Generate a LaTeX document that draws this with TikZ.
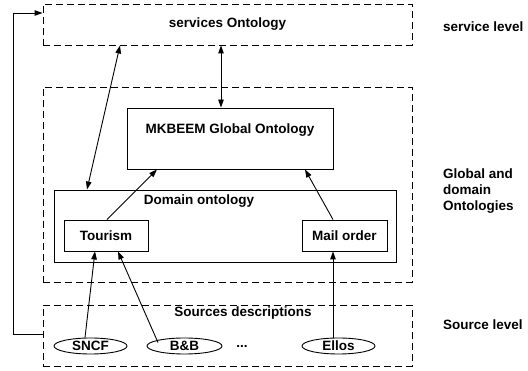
\documentclass[tikz,border=0pt]{standalone}
\usepackage{fontspec}
\setmainfont{Liberation Sans}
\usetikzlibrary{arrows.meta,shapes.geometric,calc}
\begin{document}
\begin{tikzpicture}[x=1pt,y=-1pt,
  font=\fontsize{13.5}{16}\selectfont\bfseries,
  every node/.style={inner sep=0pt},
  lw/.style={line width=0.9pt},
  dbox/.style={draw,lw,dash pattern=on 7pt off 4pt,rectangle},
  sbox/.style={draw,lw,rectangle},
  src/.style={draw,lw,ellipse,minimum height=16pt,text height=9.7pt,text depth=0pt},
  arr/.style={lw,-{Triangle[length=8pt,width=5.5pt]}},
  darr/.style={lw,{Triangle[length=8pt,width=5.5pt]}-{Triangle[length=8pt,width=5.5pt]}},
  lbl/.style={anchor=west,align=left}]
\useasboundingbox (0,0) rectangle (528,371);

% service level
\node[dbox,minimum width=369pt,minimum height=41pt] (svc) at (227.5,24.5) {services Ontology};

% global and domain level
\node[dbox,minimum width=369pt,minimum height=195pt] (glob) at (227.5,184.5) {};
\node[sbox,minimum width=206pt,minimum height=61pt] (mk) at (230,138.5) {};
\node (mktxt) at (230,130) {MKBEEM Global Ontology};
\node[sbox,minimum width=342pt,minimum height=72pt] (dom) at (225,226) {};
\node (domtxt) at (199,201) {Domain ontology};
\node[sbox,minimum width=84pt,minimum height=31pt] (tour) at (106,235.5) {Tourism};
\node[sbox,minimum width=85pt,minimum height=31pt] (mail) at (344.5,235.5) {Mail order};

% source level
\node[dbox,minimum width=369pt,minimum height=61pt] (srcs) at (227.5,335.5) {};
\node (srctxt) at (243,313) {Sources descriptions};
\node[src,minimum width=73pt] (sncf) at (90.5,346) {SNCF};
\node[src,minimum width=75pt] (bb) at (184.5,346) {B\&B};
\node (dots) at (242,346) {...};
\node[src,minimum width=73pt] (ellos) at (338.5,346) {Ellos};

% level captions
\node[lbl] (l1) at (443,27) {service level};
\node[lbl] (l2) at (443,191) {Global and\\domain\\Ontologies};
\node[lbl] (l3) at (443,325) {Source level};

% connectors
\draw[darr] ([xshift=-6.5pt]svc.south) -- ([xshift=-9pt]mk.north);
\draw[darr] ([xshift=-107.5pt]svc.south) -- ([xshift=-138pt]dom.north);
\draw[arr] ([xshift=1pt]tour.north) -- ([xshift=-73pt]mk.south);
\draw[arr] ([xshift=-11.5pt]mail.north) -- ([xshift=75pt]mk.south);
\draw[arr] ([xshift=-5.5pt]sncf.north) -- ([xshift=-11pt]tour.south);
\draw[arr] ([xshift=-26.5pt,yshift=-5pt]bb.north) -- ([xshift=12pt]tour.south);
\draw[arr] ([xshift=-5.5pt]ellos.north) -- ([xshift=-11.5pt]mail.south);
\coordinate (fb) at (13,13);
\draw[arr] ([yshift=1.5pt]srcs.west) -| (fb) -- ([yshift=11.5pt]svc.west);
\end{tikzpicture}
\end{document}
